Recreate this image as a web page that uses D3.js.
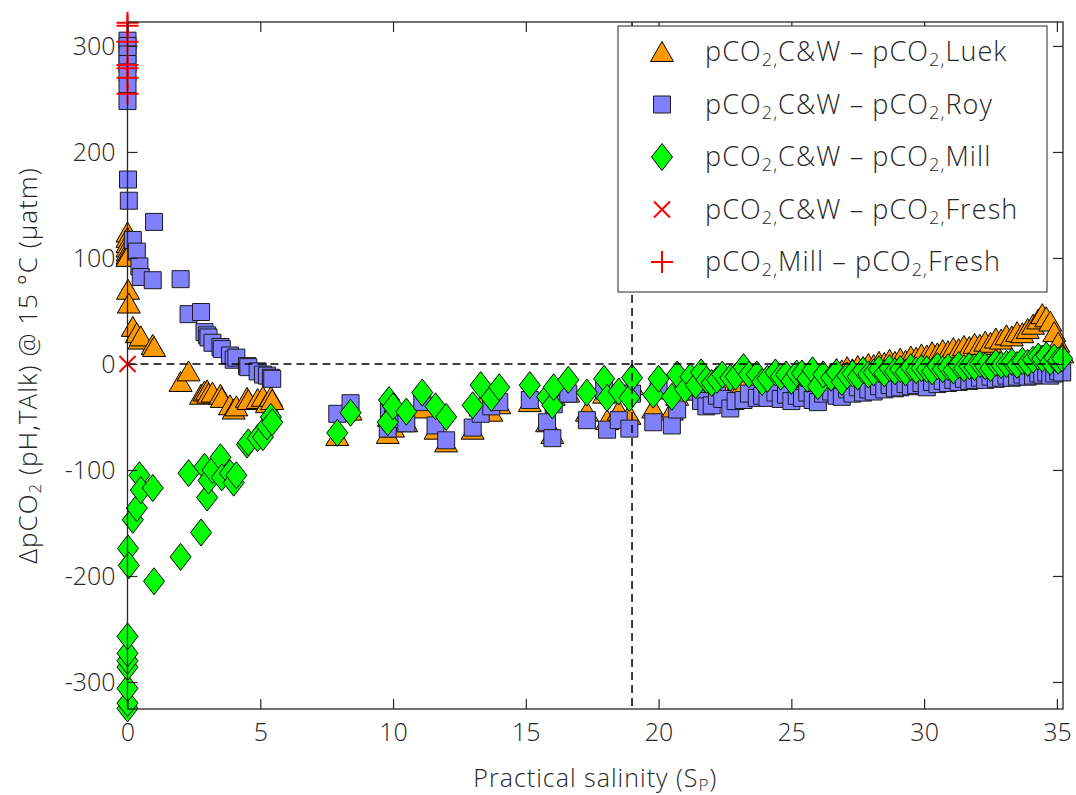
<!DOCTYPE html>
<html>
<head>
<meta charset="utf-8">
<script src="https://cdn.jsdelivr.net/npm/d3@7"></script>
<style>
  body { margin: 0; background: #fff; }
  text { font-family: "Open Sans", Lato, sans-serif; font-weight: 300; fill: #262626; }
</style>
</head>
<body>
<svg id="chart" width="1076" height="795"></svg>
<script>
// practical salinity of each sample (shared by the three comparisons)
var salinity = [
  0, 0, 0, 0, 0, 0, 0, 0.02, 0.05, 0.2, 0.35, 0.45, 0.5, 0.95, 1.0, 2.0, 2.3, 2.77, 2.9, 3.0,
  3.05, 3.2, 3.5, 3.55, 3.86, 4.0, 4.1, 4.5, 4.55, 4.9, 5.1, 5.25, 5.4, 5.45,
  7.9, 8.4, 9.8, 9.85, 10.0, 10.5, 11.1, 11.6, 12.0, 13.0, 13.3, 13.7, 14.0, 15.15, 15.8, 16.0,
  16.05, 16.6, 17.3, 17.95, 18.06, 18.5, 18.9, 19.0, 19.8, 20.0, 20.5, 20.7, 21.0,
  21.2, 21.4, 21.6, 21.8, 22.0, 22.2, 22.4, 22.7, 22.9, 23.2, 23.4, 23.7, 23.9, 24.1, 24.4, 24.6, 24.8, 25.0, 25.2, 25.4,
  25.6, 25.8, 26.0, 26.2, 26.5, 26.7, 26.9, 27.1, 27.3, 27.5, 27.7, 27.9, 28.1, 28.3, 28.5, 28.7, 28.9, 29.1, 29.3, 29.5,
  29.7, 29.9, 30.1, 30.3, 30.5, 30.7, 30.9, 31.1, 31.3, 31.5, 31.7, 31.9, 32.1, 32.3, 32.5, 32.7, 32.9, 33.1, 33.3, 33.5,
  33.7, 33.9, 34.1, 34.3, 34.45, 34.6, 34.75, 34.9, 35.05, 35.2
];

// pCO2,C&W - pCO2,Luek
var dLuek = [
  124, 119, 114, 110, 106, 103, 101, 70, 57, 35, 29, 23, 26, 18, 16, -17, -7, -29, -26, -25,
  -28, -27, -29, -32, -39, -43, -40, -32, -34, -33, -31, -37, -31, -34,
  -68, -44, -66, -50, -60, -55, -42, -62, -74, -62, -40, -45, -38, -36, -55, -66,
  -30, -27, -45, -28, -53, -44, -48, -20, -42, -20, -44, -30, -15,
  -22, -25, -18, -28, -24, -26, -20, -30, -22, -18, -24, -17, -20, -15, -19, -14, -16, -12, -15, -10,
  -13, -8, -11, -7, -9, -5, -6, -3, -5, -2, -3, 0, -1, 2, 1, 4, 2, 5, 3, 7,
  6, 9, 8, 11, 10, 13, 12, 15, 14, 17, 16, 19, 18, 21, 20, 24, 23, 27, 26, 30,
  29, 33, 37, 42, 47, 44, 40, 30, 20, 10
];

// pCO2,C&W - pCO2,Roy
var dRoy = [
  305, 300, 292, 283, 275, 262, 248, 174, 154, 117, 106, 92, 82, 79, 134, 80, 47, 49, 30, 27,
  25, 20, 16, 14, 8, 4, 6, -2, -3, -7, -10, -11, -13, -14,
  -47, -37, -61, -44, -52, -56, -36, -58, -72, -60, -47, -40, -36, -34, -55, -70,
  -38, -28, -53, -25, -62, -53, -61, -28, -55, -25, -58, -43, -20,
  -20, -26, -35, -40, -39, -30, -33, -42, -35, -34, -28, -32, -30, -32, -27, -33, -29, -35, -30, -32,
  -27, -34, -36, -28, -26, -30, -31, -24, -28, -22, -27, -24, -26, -21, -24, -20, -23, -22, -19, -21,
  -20, -18, -22, -17, -19, -16, -18, -15, -17, -14, -16, -15, -13, -15, -12, -14, -13, -11, -13, -12,
  -10, -12, -11, -9, -10, -8, -11, -9, -7, -8
];

// pCO2,C&W - pCO2,Mill
var dMill = [
  -325, -320, -306, -286, -280, -273, -257, -174, -190, -147, -136, -105, -119, -117, -205, -182, -103, -159, -97, -126,
  -110, -100, -88, -107, -103, -112, -105, -76, -74, -70, -69, -59, -50, -55,
  -65, -46, -55, -34, -40, -45, -27, -40, -50, -39, -20, -32, -22, -20, -31, -39,
  -22, -15, -27, -14, -32, -26, -32, -13, -29, -14, -31, -10, -24,
  -12, -20, -8, -15, -18, -15, -10, -13, -12, -3, -10, -10, -17, -14, -8, -12, -10, -16, -9, -9,
  -14, -6, -21, -10, -13, -8, -17, -11, -9, -12, -6, -10, -8, -5, -9, -4, -7, -5, -8, -3,
  -6, -4, -5, -7, -2, -5, -3, -6, -1, -4, -2, -3, 0, -2, -4, 1, -1, 0, 2, -1,
  3, 1, 4, 7, 5, 8, 2, 6, 3, 5
];

// pCO2,C&W - pCO2,Fresh
var freshS = [0];
var dFresh = [0];

// pCO2,Mill - pCO2,Fresh
var millFreshS = [0, 0, 0, 0, 0, 0, 0];
var dMillFresh = [322, 319, 304, 282, 279, 270, 255];

var xTicks = [0, 5, 10, 15, 20, 25, 30, 35];
var yTicks = [-300, -200, -100, 0, 100, 200, 300];
var refSalinity = 19;

var legendItems = [
  { shape: "tri", a: "C&W", b: "Luek" },
  { shape: "sq", a: "C&W", b: "Roy" },
  { shape: "dia", a: "C&W", b: "Mill" },
  { shape: "x", a: "C&W", b: "Fresh" },
  { shape: "plus", a: "Mill", b: "Fresh" }
];

var axisColor = "#262626";

function markerPath(shape) {
    if (shape == "tri") return "M0,-10.5L11.5,9.5L-11.5,9.5Z";
    if (shape == "sq") return "M-8.5,-8.5H8.5V8.5H-8.5Z";
    if (shape == "dia") return "M0,-13.5L10.5,0L0,13.5L-10.5,0Z";
    if (shape == "x") return "M-8,-8L8,8M-8,8L8,-8";
    if (shape == "plus") return "M-11,0H11M0,-11V11";
}

function styleMarker(sel, shape) {
    if (shape == "tri") sel.attr("fill", "#ff9900").attr("stroke", "#000").attr("stroke-width", 1);
    if (shape == "sq") sel.attr("fill", "#8080ff").attr("stroke", "#1a1a1a").attr("stroke-width", 1);
    if (shape == "dia") sel.attr("fill", "#00ff00").attr("stroke", "#000").attr("stroke-width", 1);
    if (shape == "x" || shape == "plus") sel.attr("fill", "none").attr("stroke", "#ff0000").attr("stroke-width", 2);
    return sel;
}

var svg = d3.select("#chart"),
    margin = { top: 22, right: 13, bottom: 86, left: 127.5 },
    width = svg.attr("width") - margin.left - margin.right,
    height = svg.attr("height") - margin.top - margin.bottom,
    g = svg.append("g").attr("transform", "translate(" + margin.left + "," + margin.top + ")");

var x = d3.scaleLinear().domain([0, 35.23]).range([0, width]);
var y = d3.scaleLinear().domain([-325.5, 322.6]).range([height, 0]);

// markers, in plotting order
function drawSeries(xs, ys, shape) {
    var sel = g.append("g").selectAll("path")
        .data(d3.range(xs.length))
        .enter().append("path")
        .attr("d", markerPath(shape))
        .attr("transform", function(i) {
            return "translate(" + x(xs[i]) + "," + y(ys[i]) + ")"; });
    styleMarker(sel, shape);
}

drawSeries(salinity, dLuek, "tri");
drawSeries(salinity, dRoy, "sq");
drawSeries(salinity, dMill, "dia");

// reference lines
g.append("line")
    .attr("x1", x(0)).attr("x2", width)
    .attr("y1", y(0)).attr("y2", y(0))
    .attr("stroke", "#000").attr("stroke-width", 1.5)
    .attr("stroke-dasharray", "8,5");
g.append("line")
    .attr("x1", x(refSalinity)).attr("x2", x(refSalinity))
    .attr("y1", 0).attr("y2", height)
    .attr("stroke", "#000").attr("stroke-width", 1.5)
    .attr("stroke-dasharray", "8,5");

drawSeries(freshS, dFresh, "x");
drawSeries(millFreshS, dMillFresh, "plus");

// axes box with inward ticks
g.append("rect")
    .attr("width", width).attr("height", height)
    .attr("fill", "none").attr("stroke", axisColor).attr("stroke-width", 1.3);

var plain = function(d) { return String(d); };

var xb = g.append("g").attr("transform", "translate(0," + height + ")")
    .call(d3.axisBottom(x).tickValues(xTicks).tickSize(-10).tickPadding(14).tickFormat(plain));
var xt = g.append("g")
    .call(d3.axisTop(x).tickValues(xTicks).tickSize(-10).tickFormat(""));
var yl = g.append("g")
    .call(d3.axisLeft(y).tickValues(yTicks).tickSize(-10).tickPadding(12).tickFormat(plain));
var yr = g.append("g").attr("transform", "translate(" + width + ",0)")
    .call(d3.axisRight(y).tickValues(yTicks).tickSize(-10).tickFormat(""));

[xb, xt, yl, yr].forEach(function(a) {
    a.select(".domain").remove();
    a.selectAll(".tick line").attr("stroke", axisColor).attr("stroke-width", 1.2);
    a.selectAll(".tick text")
        .style("font-family", "\"Open Sans\", Lato, sans-serif")
        .style("font-weight", "300")
        .style("font-size", "25px")
        .attr("fill", axisColor);
});
xb.selectAll(".tick text").attr("dy", "0.71em");
yl.selectAll(".tick text").attr("dy", "0.36em");

// axis labels
var xlab = svg.append("text")
    .attr("x", margin.left + width / 2)
    .attr("y", 787)
    .attr("text-anchor", "middle")
    .style("font-size", "25px")
    .style("letter-spacing", "1px");
xlab.append("tspan").text("Practical salinity (S");
xlab.append("tspan").attr("baseline-shift", "-25%").style("font-size", "17px").text("P");
xlab.append("tspan").text(")");

var ylab = svg.append("text")
    .attr("transform", "translate(37," + (margin.top + height / 2) + ") rotate(-90)")
    .attr("text-anchor", "middle")
    .style("font-size", "26px")
    .style("letter-spacing", "1px");
ylab.append("tspan").text("\u0394pCO");
ylab.append("tspan").attr("baseline-shift", "-25%").style("font-size", "17px").text("2");
ylab.append("tspan").text(" (pH,TAlk) @ 15 \u00B0C (\u00B5atm)");

// legend
var lg = svg.append("g").attr("transform", "translate(618,26)");
lg.append("rect")
    .attr("width", 429).attr("height", 266)
    .attr("fill", "#fff").attr("stroke", axisColor).attr("stroke-width", 1);

var rows = lg.selectAll(".row")
    .data(legendItems)
    .enter().append("g")
    .attr("class", "row")
    .attr("transform", function(d, i) {
        return "translate(0," + (26 + i * 52.5) + ")"; });

rows.each(function(d) {
    var r = d3.select(this);
    styleMarker(r.append("path").attr("d", markerPath(d.shape)).attr("transform", "translate(44,0)"), d.shape);
    var t = r.append("text").attr("x", 87).attr("y", 9)
        .style("font-size", "27px")
        .style("letter-spacing", "1.1px");
    t.append("tspan").text("pCO");
    t.append("tspan").attr("baseline-shift", "-30%").style("font-size", "18px").text("2,");
    t.append("tspan").text(d.a + " \u2013 pCO");
    t.append("tspan").attr("baseline-shift", "-30%").style("font-size", "18px").text("2,");
    t.append("tspan").text(d.b);
});
</script>
</body>
</html>
